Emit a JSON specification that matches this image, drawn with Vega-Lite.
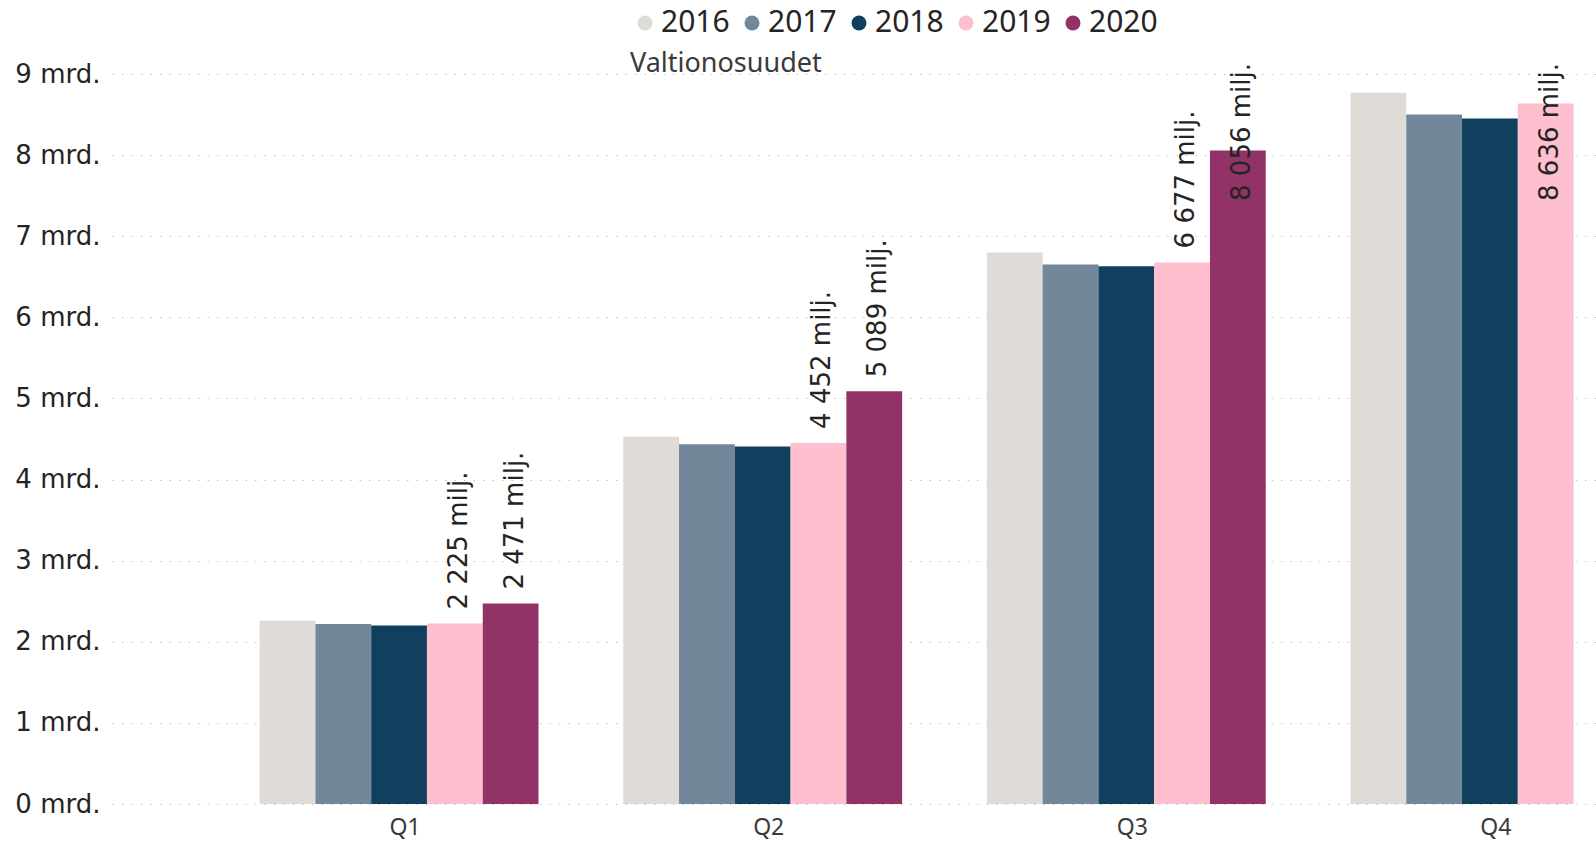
{
  "$schema": "https://vega.github.io/schema/vega-lite/v6.json",
  "autosize": "none",
  "width": 1484,
  "height": 730,
  "padding": {"left": 112, "top": 74, "right": 0, "bottom": 38},
  "background": "white",
  "config": {
    "view": {"stroke": null},
    "locale": {
      "number": {"decimal": ",", "thousands": " ", "grouping": [3], "currency": ["", " milj."]}
    }
  },
  "data": {
    "values": [
      {"quarter": "Q1", "year": "2016", "value": 2260},
      {"quarter": "Q1", "year": "2017", "value": 2220},
      {"quarter": "Q1", "year": "2018", "value": 2200},
      {"quarter": "Q1", "year": "2019", "value": 2225},
      {"quarter": "Q1", "year": "2020", "value": 2471},
      {"quarter": "Q2", "year": "2016", "value": 4529},
      {"quarter": "Q2", "year": "2017", "value": 4435},
      {"quarter": "Q2", "year": "2018", "value": 4406},
      {"quarter": "Q2", "year": "2019", "value": 4452},
      {"quarter": "Q2", "year": "2020", "value": 5089},
      {"quarter": "Q3", "year": "2016", "value": 6798},
      {"quarter": "Q3", "year": "2017", "value": 6650},
      {"quarter": "Q3", "year": "2018", "value": 6630},
      {"quarter": "Q3", "year": "2019", "value": 6677},
      {"quarter": "Q3", "year": "2020", "value": 8056},
      {"quarter": "Q4", "year": "2016", "value": 8770},
      {"quarter": "Q4", "year": "2017", "value": 8500},
      {"quarter": "Q4", "year": "2018", "value": 8450},
      {"quarter": "Q4", "year": "2019", "value": 8636}
    ]
  },
  "encoding": {
    "x": {
      "field": "quarter", "type": "nominal",
      "scale": {"domain": ["Q1", "Q2", "Q3", "Q4"], "range": [0, 1665], "paddingInner": 0.233, "paddingOuter": 0.406},
      "axis": {
        "title": null, "domain": false, "ticks": false, "labelAngle": 0,
        "labelFont": "Noto Sans", "labelFontSize": 23, "labelColor": "#3b3a39", "labelPadding": 12, "labelOffset": 6
      }
    },
    "xOffset": {
      "field": "year", "type": "nominal",
      "scale": {"domain": ["2016", "2017", "2018", "2019", "2020"], "paddingInner": 0, "paddingOuter": 0}
    }
  },
  "layer": [
    {
      "mark": {"type": "bar"},
      "encoding": {
        "y": {
          "field": "value", "type": "quantitative",
          "scale": {"domain": [0, 9000], "nice": false, "zero": true},
          "axis": {
            "title": null, "domain": false, "ticks": false,
            "values": [0, 1000, 2000, 3000, 4000, 5000, 6000, 7000, 8000, 9000],
            "labelExpr": "(datum.value / 1000) + ' mrd.'",
            "labelFont": "DejaVu Sans", "labelFontSize": 26, "labelColor": "#252423", "labelPadding": 12,
            "grid": true, "gridColor": "#c8c6c4", "gridDash": [1.5, 8], "gridWidth": 1.2
          }
        },
        "color": {
          "field": "year", "type": "nominal",
          "scale": {
            "domain": ["2016", "2017", "2018", "2019", "2020"],
            "range": ["#DFDBD7", "#72879A", "#11405F", "#FEBFCF", "#913366"]
          },
          "legend": {
            "orient": "none", "legendX": 518, "legendY": -66,
            "direction": "horizontal",
            "title": "Valtionosuudet", "titleOrient": "bottom", "titleAnchor": "start", "titleLimit": 600,
            "titleFont": "Noto Sans", "titleFontSize": 27, "titleFontWeight": "normal", "titleColor": "#3b3a39", "titlePadding": 13,
            "symbolType": "circle", "symbolSize": 225, "symbolStrokeWidth": 0,
            "labelFont": "Noto Sans", "labelFontSize": 30, "labelColor": "#252423", "labelOffset": 1,
            "columnPadding": 7
          }
        }
      }
    },
    {
      "transform": [{"filter": "(datum.year == '2019' || datum.year == '2020') && datum.value < 7500"}],
      "mark": {"type": "text", "angle": -90, "align": "left", "baseline": "middle", "dx": 14, "dy": 4, "font": "DejaVu Sans", "fontSize": 26, "color": "#252423"},
      "encoding": {
        "y": {"field": "value", "type": "quantitative"},
        "text": {"field": "value", "type": "quantitative", "format": "$,d"}
      }
    },
    {
      "transform": [{"filter": "(datum.year == '2019' || datum.year == '2020') && datum.value >= 7500"}],
      "mark": {"type": "text", "angle": -90, "align": "right", "baseline": "middle", "dx": 11, "dy": 4, "font": "DejaVu Sans", "fontSize": 26, "color": "#252423"},
      "encoding": {
        "y": {"datum": 9000, "type": "quantitative"},
        "text": {"field": "value", "type": "quantitative", "format": "$,d"}
      }
    }
  ]
}
